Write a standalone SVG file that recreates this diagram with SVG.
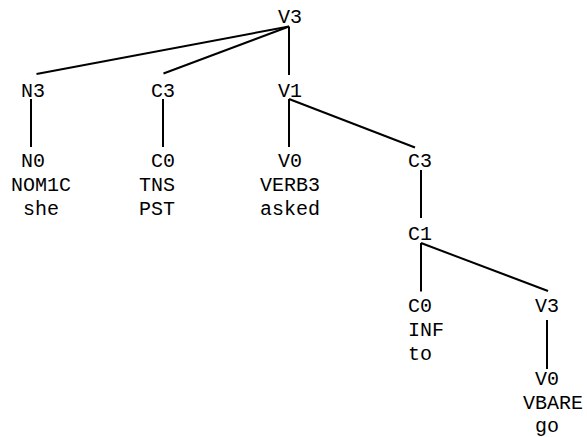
<svg xmlns="http://www.w3.org/2000/svg" width="587" height="437" viewBox="0 0 587 437">
<style>
text{font-family:"Liberation Mono","Courier New",monospace;font-size:20px;fill:#000;text-anchor:middle}
.e{stroke:#000;stroke-width:2;fill:none}
</style>
<rect width="587" height="437" fill="#fff"/>
<g id="connectors">
<line class="e" x1="289" y1="26.5" x2="36.5" y2="74"/>
<line class="e" x1="289" y1="26.5" x2="163.5" y2="73.5"/>
<line class="e" x1="289" y1="26.5" x2="289" y2="75"/>
<line class="e" x1="31" y1="99" x2="31" y2="147"/>
<line class="e" x1="163" y1="99" x2="163" y2="147"/>
<line class="e" x1="289" y1="99" x2="289" y2="147"/>
<line class="e" x1="289" y1="99" x2="415" y2="147.5"/>
<line class="e" x1="421" y1="170" x2="421" y2="218"/>
<line class="e" x1="421" y1="243" x2="421" y2="291.5"/>
<line class="e" x1="421" y1="243" x2="548" y2="291"/>
<line class="e" x1="547" y1="320" x2="547" y2="369"/>
</g>
<g id="n-V3-root"><text x="290" y="23">V3</text></g>
<g id="n-N3"><text x="33" y="97">N3</text></g>
<g id="n-C3"><text x="163" y="97">C3</text></g>
<g id="n-V1"><text x="290" y="97">V1</text></g>
<g id="n-N0"><text x="33" y="167">N0</text><text x="41" y="191">NOM1C</text><text x="41" y="215">she</text></g>
<g id="n-C0"><text x="163" y="167">C0</text><text x="157" y="191">TNS</text><text x="157" y="215">PST</text></g>
<g id="n-V0"><text x="290" y="167">V0</text><text x="290" y="191">VERB3</text><text x="290" y="215">asked</text></g>
<g id="n-C3b"><text x="420" y="167">C3</text></g>
<g id="n-C1"><text x="420" y="240">C1</text></g>
<g id="n-C0b"><text x="420" y="312">C0</text><text x="426" y="336">INF</text><text x="420" y="360">to</text></g>
<g id="n-V3b"><text x="547" y="312">V3</text></g>
<g id="n-V0b"><text x="547" y="385">V0</text><text x="553" y="409">VBARE</text><text x="547" y="432">go</text></g>
</svg>
